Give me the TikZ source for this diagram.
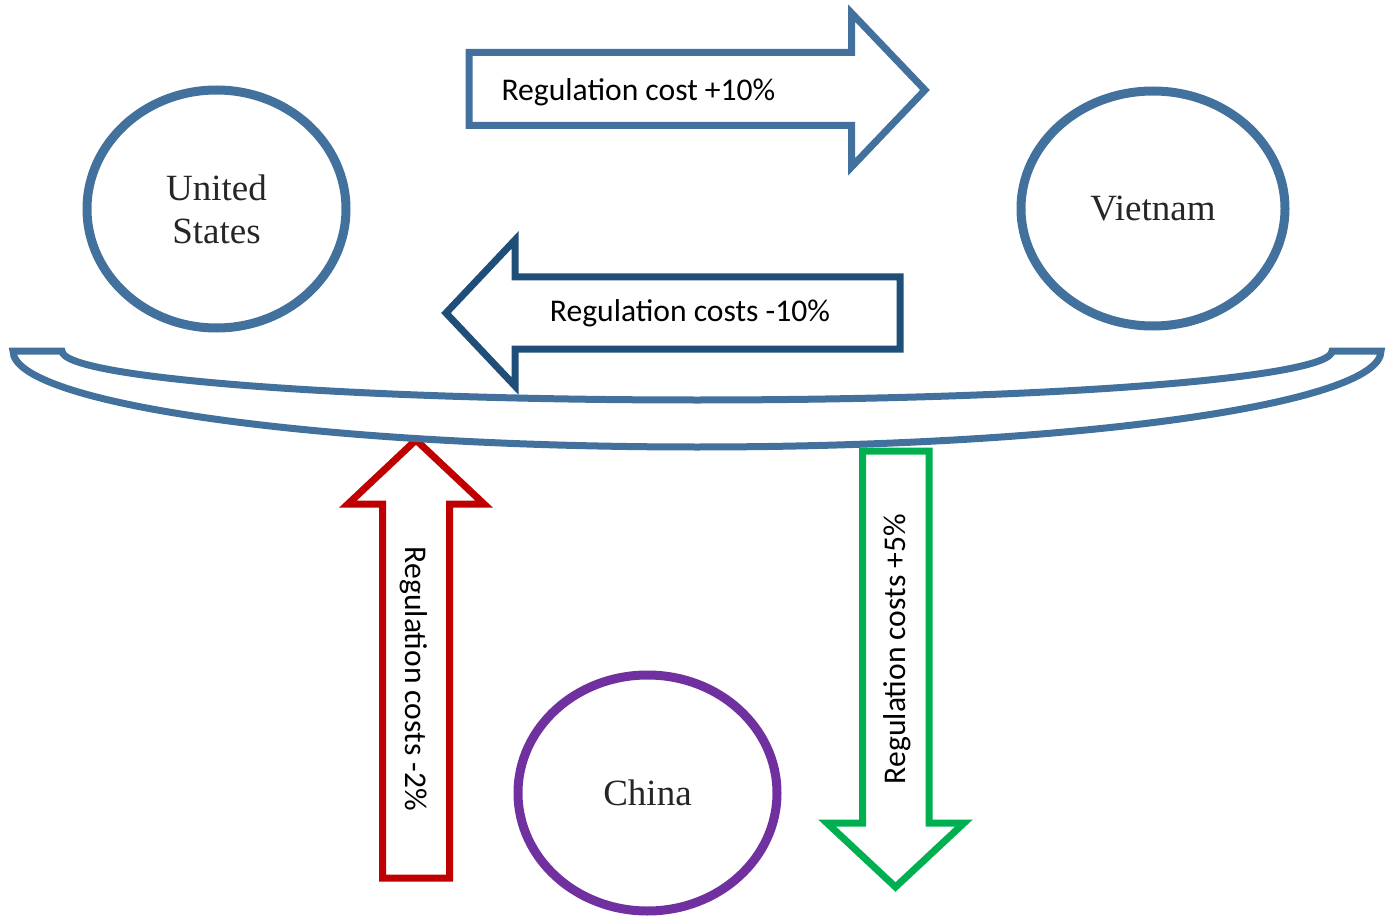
\documentclass[tikz,border=0pt]{standalone}
\usepackage{fontspec}
\setmainfont{Liberation Serif}
\newfontfamily\labelfont{Carlito}
\usetikzlibrary{shapes.geometric}
\definecolor{ShapeBlue}{HTML}{41719C}
\definecolor{DarkBlue}{HTML}{1F4E79}
\definecolor{CostRed}{HTML}{C00000}
\definecolor{CostGreen}{HTML}{00B050}
\definecolor{ChinaPurple}{HTML}{7030A0}
\tikzset{
  % countries
  country/.style={ellipse,draw=#1,line width=4.5pt,inner sep=0pt,align=center,
    font=\fontsize{18.5}{21.5}\selectfont,text=black!85},
  % block arrows and their labels
  block arrow/.style={draw=#1,line width=3.5pt,line join=miter,fill=white},
  cost label/.style={font=\labelfont\fontsize{15.8}{19}\selectfont,inner sep=0pt}
}

\begin{document}
\begin{tikzpicture}[x=0.5pt,y=-0.5pt]
    \useasboundingbox (0,0) rectangle (1394,920);
    % countries
    \node[country=ShapeBlue,minimum width=129.5pt,minimum height=119pt]
      (us) at (216.5,209) {United\\States};
    \node[country=ShapeBlue,minimum width=132pt,minimum height=117.5pt]
      (vn) at (1153,208.5) {Vietnam};
    \node[country=ChinaPurple,minimum width=129.5pt,minimum height=118pt]
      (cn) at (647.5,793) {China};
    % US -> Vietnam
    \draw[block arrow=ShapeBlue]
      (469,52.5)--(851.5,52.5)--(851.5,13)--(925,90)--(851.5,167)
      --(851.5,125.5)--(469,125.5)--cycle;
    \node[cost label] (usvn) at (638.5,92) {Regulation cost +10\%};
    % Vietnam -> US
    \draw[block arrow=DarkBlue]
      (900,277)--(515,277)--(515,240)--(446,313)--(515,386)
      --(515,349)--(900,349)--cycle;
    \node[cost label] (vnus) at (690,313) {Regulation costs -10\%};
    % China -> up
    \draw[block arrow=CostRed]
      (382.5,878)--(382.5,504)--(348,504)--(416,440)--(484,504)
      --(449.5,504)--(449.5,878)--cycle;
    \node[cost label,rotate=-90] (cnup) at (414,679) {Regulation costs -2\%};
    % down -> China side
    \draw[block arrow=CostGreen]
      (862.5,451)--(862.5,823)--(827,823)--(895.5,887)--(964,823)
      --(929,823)--(929,451)--cycle;
    \node[cost label,rotate=90] (cndown) at (897,649) {Regulation costs +5\%};
    % bracket
    \draw[ShapeBlue,line width=3.5pt,line join=miter]
      (13,351)--(62,351)
      arc[start angle=180,end angle=360,x radius=317.5pt,y radius=24.5pt]
      --(1381,351)
      arc[start angle=0,end angle=-180,x radius=342pt,y radius=48pt]
      --cycle;
  \end{tikzpicture}
\end{document}
